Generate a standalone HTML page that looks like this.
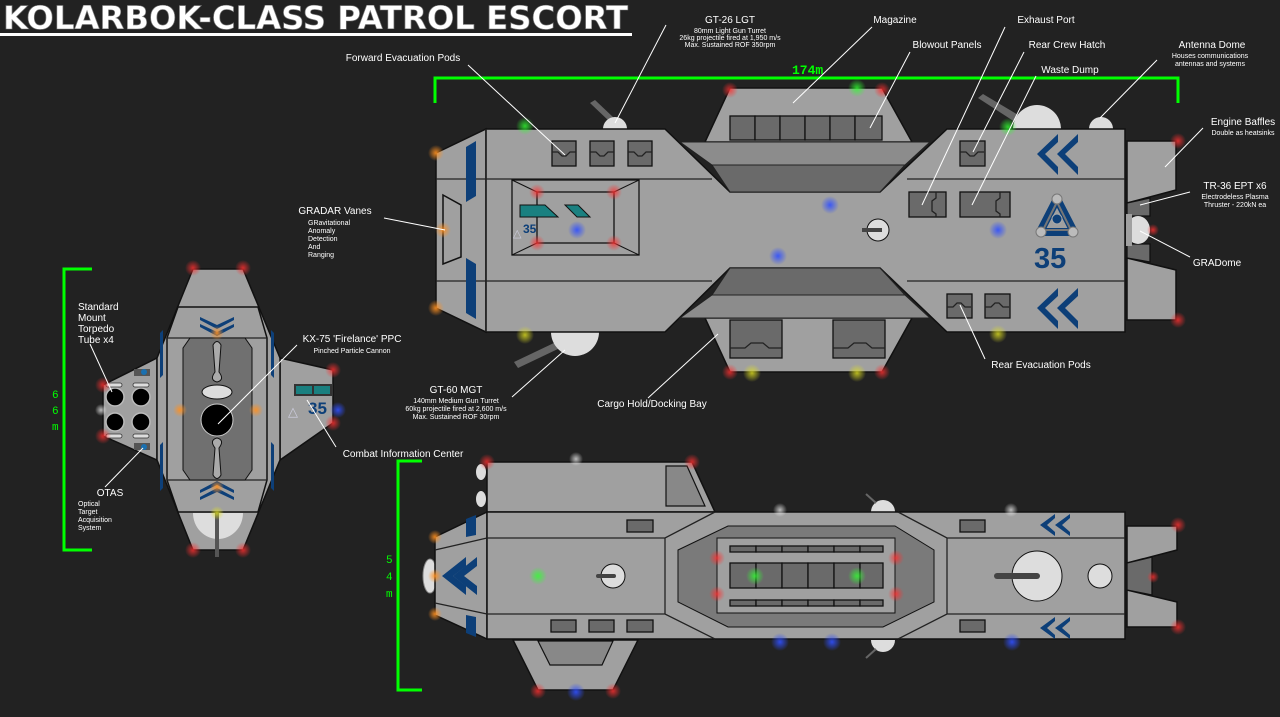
<!DOCTYPE html>
<html><head><meta charset="utf-8"><style>
html,body{margin:0;padding:0;background:#222;}
svg{display:block}
text{font-family:"Liberation Sans",sans-serif;fill:#fff}
.l{font-size:10px}.s{font-size:7px}
.ln{stroke:#fff;stroke-width:1;fill:none}
.h{fill:#a0a0a0;stroke:#111;stroke-width:1.5}
.d{fill:#6a6a6a;stroke:#111;stroke-width:1.3}
.m{fill:#888;stroke:#111;stroke-width:1.2}
.k{stroke:#222;stroke-width:1.3;fill:none}
.b{fill:#0d3f78}
.g{stroke:#00ff00;stroke-width:3;fill:none}
</style></head><body>
<svg width="1280" height="717" viewBox="0 0 1280 717" xmlns="http://www.w3.org/2000/svg">
<defs>
<radialGradient id="gr"><stop offset="0" stop-color="#ff3030" stop-opacity=".8"/><stop offset="1" stop-color="#ff3030" stop-opacity="0"/></radialGradient>
<radialGradient id="gg"><stop offset="0" stop-color="#30ff30" stop-opacity=".8"/><stop offset="1" stop-color="#30ff30" stop-opacity="0"/></radialGradient>
<radialGradient id="gb"><stop offset="0" stop-color="#3050ff" stop-opacity=".9"/><stop offset="1" stop-color="#3050ff" stop-opacity="0"/></radialGradient>
<radialGradient id="go"><stop offset="0" stop-color="#ff9020" stop-opacity=".9"/><stop offset="1" stop-color="#ff9020" stop-opacity="0"/></radialGradient>
<radialGradient id="gy"><stop offset="0" stop-color="#e0e020" stop-opacity=".8"/><stop offset="1" stop-color="#e0e020" stop-opacity="0"/></radialGradient>
<radialGradient id="gw"><stop offset="0" stop-color="#ffffff" stop-opacity=".7"/><stop offset="1" stop-color="#ffffff" stop-opacity="0"/></radialGradient>
</defs>

<!-- Title -->
<text x="3" y="29" style="font-family:'DejaVu Sans Condensed','Liberation Sans Narrow',sans-serif;font-weight:bold;font-size:32px;fill:#fff;stroke:#777;stroke-width:.6" textLength="625" lengthAdjust="spacingAndGlyphs">KOLARBOK-CLASS PATROL ESCORT</text>
<rect x="0" y="33" width="632" height="3" fill="#fff"/>

<!-- Scale bars -->
<path class="g" d="M435,103 V78 H1178 V103"/>
<text x="792" y="74" style="fill:#00ff00;font-size:13px;font-family:'Liberation Mono',monospace;font-weight:bold">174m</text>
<path class="g" d="M92,269 H64 V550 H92"/>
<text x="52" y="398" style="fill:#00ff00;font-size:11px;font-family:'Liberation Mono',monospace">6</text>
<text x="52" y="414" style="fill:#00ff00;font-size:11px;font-family:'Liberation Mono',monospace">6</text>
<text x="52" y="430" style="fill:#00ff00;font-size:11px;font-family:'Liberation Mono',monospace">m</text>
<path class="g" d="M422,461 H398 V690 H422"/>
<text x="386" y="563" style="fill:#00ff00;font-size:11px;font-family:'Liberation Mono',monospace">5</text>
<text x="386" y="580" style="fill:#00ff00;font-size:11px;font-family:'Liberation Mono',monospace">4</text>
<text x="386" y="597" style="fill:#00ff00;font-size:11px;font-family:'Liberation Mono',monospace">m</text>

<!-- ===== TOP VIEW ===== -->
<polygon points="590,103 595,100 614,118 610,122" fill="#666"/>
<path d="M603,129 A12,12 0 0 1 627,129 Z" fill="#ddd"/>
<polygon points="978,98 983,94 1020,116 1015,122" fill="#666"/>
<path d="M1013,129 A24,24 0 0 1 1061,129 Z" fill="#ddd"/>
<path d="M1089,129 A12,12 0 0 1 1113,129 Z" fill="#ddd"/>
<polygon points="514,362 518,368 560,348 556,342" fill="#666"/>
<path d="M551,332 A24,24 0 0 0 599,332 Z" fill="#ddd"/>
<polygon class="h" points="730,88 882,88 912,142 705,142"/>
<polygon class="h" points="705,318 912,318 882,372 730,372"/>
<polygon class="h" points="436,153 486,129 486,332 436,308"/>
<polygon class="h" points="443,195 461,205 461,257 443,264" />
<polygon class="h" points="486,129 665,129 730,192 880,192 947,129 1125,129 1125,332 947,332 880,268 730,268 665,332 486,332"/>
<polygon points="680,142 930,142 905,165 712,165" fill="#8c8c8c" stroke="#222"/>
<polygon points="712,165 905,165 880,192 730,192" fill="#6a6a6a" stroke="#222"/>
<polygon points="712,295 905,295 930,318 680,318" fill="#8c8c8c" stroke="#222"/>
<polygon points="730,268 880,268 905,295 712,295" fill="#6a6a6a" stroke="#222"/>
<line class="k" x1="436" y1="179" x2="712" y2="179"/><line class="k" x1="436" y1="281" x2="712" y2="281"/>
<line class="k" x1="907" y1="179" x2="1125" y2="179"/><line class="k" x1="907" y1="281" x2="1125" y2="281"/>
<line class="k" x1="486" y1="129" x2="486" y2="332"/>
<polygon class="b" points="466,147 476,141 476,196 466,202"/>
<polygon class="b" points="466,258 476,264 476,319 466,313"/>
<polygon class="h" points="1127,141 1176,141 1176,190 1127,203"/>
<polygon class="h" points="1127,258 1176,270 1176,320 1127,320"/>
<polygon class="d" points="1127,203 1150,198 1150,216 1127,216"/>
<polygon class="d" points="1127,244 1150,244 1150,262 1127,258"/>
<ellipse cx="1138" cy="230" rx="12" ry="14" fill="#ddd"/>
<rect x="1126" y="214" width="6" height="32" fill="#a0a0a0"/>
<g class="d">
<rect x="552" y="141" width="24" height="25"/><rect x="590" y="141" width="24" height="25"/><rect x="628" y="141" width="24" height="25"/>
<rect x="730" y="116" width="25" height="24"/><rect x="755" y="116" width="25" height="24"/><rect x="780" y="116" width="25" height="24"/><rect x="805" y="116" width="25" height="24"/><rect x="830" y="116" width="25" height="24"/><rect x="855" y="116" width="27" height="24"/>
<rect x="730" y="320" width="52" height="38"/><rect x="833" y="320" width="52" height="38"/>
<rect x="960" y="141" width="25" height="25"/>
<rect x="947" y="294" width="25" height="24"/><rect x="985" y="294" width="25" height="24"/>
<rect x="909" y="192" width="37" height="25"/><rect x="960" y="192" width="50" height="25"/>
</g>
<g class="k" stroke-width="1">
<path d="M552,152 h6 l4,4 h4 l4,-4 h6"/><path d="M590,152 h6 l4,4 h4 l4,-4 h6"/><path d="M628,152 h6 l4,4 h4 l4,-4 h6"/>
<path d="M960,152 h6 l4,4 h4 l4,-4 h6"/>
<path d="M947,307 h6 l4,-4 h4 l4,4 h6"/><path d="M985,307 h6 l4,-4 h4 l4,4 h6"/>
<path d="M730,348 h15 l6,-5 h12 l6,5 h13"/><path d="M833,348 h15 l6,-5 h12 l6,5 h13"/>
<path d="M936,192 v6 l-4,3 v10 l4,3 v3"/><path d="M1000,192 v6 l-4,3 v10 l4,3 v3"/>
</g>
<rect x="512" y="180" width="127" height="75" fill="none" stroke="#111" stroke-width="1.3"/>
<rect x="537" y="192" width="77" height="51" fill="none" stroke="#111" stroke-width="1.3"/>
<path d="M512,180 L537,192 M639,180 L614,192 M512,255 L537,243 M639,255 L614,243" stroke="#111"/>
<polygon points="520,205 545,205 558,217 520,217" fill="#1a8080" stroke="#111"/>
<polygon points="565,205 578,205 590,217 577,217" fill="#1a8080" stroke="#111"/>
<text x="523" y="233" style="fill:#0d3f78;font-weight:bold;font-size:12px">35</text>
<text x="513" y="237" style="fill:#ccd;font-size:11px">△</text>
<circle cx="878" cy="230" r="11" fill="#ddd" stroke="#111"/>
<rect x="862" y="228" width="20" height="4" fill="#444"/>
<g class="b">
<polygon points="1058,134 1037,154 1058,175 1058,167 1045,154 1058,142"/><polygon points="1078,134 1057,154 1078,175 1078,167 1065,154 1078,142"/>
<polygon points="1058,288 1037,308 1058,329 1058,321 1045,308 1058,296"/><polygon points="1078,288 1057,308 1078,329 1078,321 1065,308 1078,296"/>
</g>
<!-- logo -->
<polygon points="1057,199 1040,232 1074,232" fill="none" stroke="#0d3f78" stroke-width="8" stroke-linejoin="round"/>
<polygon points="1057,202 1043,230 1071,230" fill="none" stroke="#777" stroke-width="2"/>
<circle cx="1057" cy="219" r="5" fill="#0d3f78" stroke="#aaa"/>
<circle cx="1057" cy="199" r="5" fill="#bbb" stroke="#777"/><circle cx="1041" cy="232" r="5" fill="#bbb" stroke="#777"/><circle cx="1073" cy="232" r="5" fill="#bbb" stroke="#777"/>
<text x="1034" y="268" style="fill:#0d3f78;font-weight:bold;font-size:29px">35</text>

<!-- ===== FRONT VIEW ===== -->
<line x1="217" y1="288" x2="217" y2="306" stroke="#555" stroke-width="3"/>
<path d="M205,308 A12,10 0 0 1 229,308 Z" fill="#6c6"/>
<polygon class="h" points="103,385 157,358 157,460 103,436"/>
<polygon class="h" points="280,358 333,370 333,423 280,460"/>
<polygon class="h" points="193,269 243,269 280,358 280,460 243,550 193,550 157,460 157,358"/>
<polygon class="h" points="178,307 258,307 267,338 267,480 258,512 178,512 167,480 167,338"/>
<line class="k" x1="167" y1="338" x2="267" y2="338"/><line class="k" x1="167" y1="480" x2="267" y2="480"/>
<polygon points="190,338 245,338 252,348 252,470 245,480 190,480 183,470 183,348" fill="#707070" stroke="#111"/>
<path d="M213,345 Q217,338 221,345 L219,372 Q225,380 217,382 Q209,380 215,372 Z" fill="#aaa" stroke="#111"/>
<path d="M213,475 Q217,482 221,475 L219,448 Q225,440 217,438 Q209,440 215,448 Z" fill="#aaa" stroke="#111"/>
<ellipse cx="217" cy="392" rx="15" ry="7" fill="#ddd" stroke="#111"/>
<circle cx="217" cy="420" r="16" fill="#000" stroke="#ccc" stroke-width="1"/>
<g class="b">
<polygon points="200,317 217,325 234,317 234,320 217,329 200,320"/><polygon points="200,324 217,332 234,324 234,327 217,336 200,327"/>
<polygon points="200,500 217,492 234,500 234,497 217,488 200,497"/><polygon points="200,493 217,485 234,493 234,490 217,481 200,490"/>
<polygon points="160,333 163,330 163,375 160,378"/><polygon points="160,445 163,442 163,488 160,491"/>
<polygon points="274,333 271,330 271,375 274,378"/><polygon points="274,445 271,442 271,488 274,491"/>
</g>
<g fill="#000" stroke="#bbb" stroke-width="1.5">
<circle cx="115" cy="397" r="9"/><circle cx="141" cy="397" r="9"/><circle cx="115" cy="422" r="9"/><circle cx="141" cy="422" r="9"/>
</g>
<g fill="#ddd" stroke="#333" stroke-width=".8">
<rect x="106" y="383" width="16" height="4" rx="2"/><rect x="133" y="383" width="16" height="4" rx="2"/>
<rect x="106" y="434" width="16" height="4" rx="2"/><rect x="133" y="434" width="16" height="4" rx="2"/>
</g>
<rect x="134" y="369" width="16" height="7" fill="#555"/><circle cx="144" cy="372" r="3" fill="#1a70b0"/>
<rect x="134" y="443" width="16" height="7" fill="#555"/><circle cx="144" cy="447" r="3" fill="#1a70b0"/>
<rect x="294" y="384" width="38" height="12" fill="#333"/><rect x="296" y="386" width="16" height="8" fill="#1a8080"/><rect x="314" y="386" width="16" height="8" fill="#1a8080"/>
<text x="308" y="414" style="fill:#0d3f78;font-weight:bold;font-size:17px">35</text>
<text x="288" y="416" style="fill:#ccd;font-size:13px">△</text>
<path d="M193,513 A25,26 0 0 0 243,513 Z" fill="#ddd"/>
<line x1="217" y1="513" x2="217" y2="557" stroke="#555" stroke-width="4"/>

<!-- ===== SIDE VIEW ===== -->
<ellipse cx="481" cy="472" rx="5" ry="8" fill="#ddd"/><ellipse cx="481" cy="499" rx="5" ry="8" fill="#ddd"/>
<path d="M871,512 A12,12 0 0 1 895,512 Z" fill="#ddd"/><line x1="866" y1="494" x2="876" y2="503" stroke="#666" stroke-width="2"/>
<path d="M871,640 A12,12 0 0 0 895,640 Z" fill="#ddd"/><line x1="866" y1="658" x2="876" y2="649" stroke="#666" stroke-width="2"/>
<polygon class="h" points="513,640 638,640 613,690 538,690"/>
<polygon class="m" points="538,641 613,641 602,665 550,665"/>
<polygon class="h" points="487,462 692,462 715,512 487,512"/>
<polygon class="m" points="666,466 687,466 705,506 666,506"/>
<ellipse cx="430" cy="576" rx="7" ry="17" fill="#ddd" stroke="#888"/>
<polygon class="h" points="435,537 487,512 487,639 435,615"/>
<polygon class="h" points="487,512 1125,512 1125,639 487,639"/>
<path class="k" d="M435,550 L487,538 M435,603 L487,614 M487,538 H665 L715,512 M487,614 H665 L715,639 M665,538 V614 M898,512 L947,538 H1125 M898,639 L947,614 H1125 M947,538 V614"/>
<polygon points="678,550 728,526 895,526 934,550 934,602 883,627 728,627 678,602" fill="#7a7a7a" stroke="#111"/>
<rect x="717" y="538" width="178" height="75" fill="#a0a0a0" stroke="#111"/>
<g class="d" stroke-width="1">
<rect x="730" y="546" width="26" height="6"/><rect x="756" y="546" width="26" height="6"/><rect x="782" y="546" width="26" height="6"/><rect x="808" y="546" width="26" height="6"/><rect x="834" y="546" width="26" height="6"/><rect x="860" y="546" width="23" height="6"/>
<rect x="730" y="563" width="26" height="25"/><rect x="756" y="563" width="26" height="25"/><rect x="782" y="563" width="26" height="25"/><rect x="808" y="563" width="26" height="25"/><rect x="834" y="563" width="26" height="25"/><rect x="860" y="563" width="23" height="25"/>
<rect x="730" y="600" width="26" height="6"/><rect x="756" y="600" width="26" height="6"/><rect x="782" y="600" width="26" height="6"/><rect x="808" y="600" width="26" height="6"/><rect x="834" y="600" width="26" height="6"/><rect x="860" y="600" width="23" height="6"/>
<rect x="627" y="520" width="26" height="12"/><rect x="551" y="620" width="25" height="12"/><rect x="589" y="620" width="25" height="12"/><rect x="627" y="620" width="26" height="12"/>
<rect x="960" y="520" width="25" height="12"/><rect x="960" y="620" width="25" height="12"/>
</g>
<polygon class="h" points="1127,526 1177,526 1177,550 1127,563"/>
<polygon class="h" points="1127,590 1177,602 1177,627 1127,627"/>
<polygon class="d" points="1127,563 1152,557 1152,595 1127,590"/>
<g class="b">
<polygon points="466,557 442,576 466,595 466,586 453,576 466,566"/><polygon points="477,557 453,576 477,595 477,586 464,576 477,566"/>
<polygon points="466,519 476,515 476,535 466,537"/><polygon points="466,615 476,617 476,637 466,633"/>
<polygon points="1055,514 1040,525 1055,536 1055,532 1047,525 1055,518"/><polygon points="1070,514 1055,525 1070,536 1070,532 1062,525 1070,518"/>
<polygon points="1055,617 1040,628 1055,639 1055,635 1047,628 1055,621"/><polygon points="1070,617 1055,628 1070,639 1070,635 1062,628 1070,621"/>
</g>
<circle cx="613" cy="576" r="12" fill="#ddd" stroke="#111"/><rect x="596" y="574" width="20" height="4" rx="2" fill="#444"/>
<circle cx="1037" cy="576" r="25" fill="#ddd" stroke="#111"/><rect x="994" y="573" width="46" height="6" rx="3" fill="#444"/>
<circle cx="1100" cy="576" r="12" fill="#ddd" stroke="#111"/>

<!-- ===== LIGHTS ===== -->
<g>
<g fill="url(#gr)">
<circle cx="730" cy="90" r="8"/><circle cx="882" cy="90" r="8"/><circle cx="730" cy="372" r="8"/><circle cx="882" cy="372" r="8"/>
<circle cx="537" cy="192" r="8"/><circle cx="614" cy="192" r="8"/><circle cx="537" cy="243" r="8"/><circle cx="614" cy="243" r="8"/>
<circle cx="1178" cy="141" r="8"/><circle cx="1178" cy="320" r="8"/><circle cx="1153" cy="230" r="6"/>
<circle cx="193" cy="268" r="8"/><circle cx="243" cy="268" r="8"/><circle cx="103" cy="385" r="8"/><circle cx="103" cy="436" r="8"/>
<circle cx="333" cy="370" r="8"/><circle cx="333" cy="423" r="8"/><circle cx="193" cy="550" r="8"/><circle cx="243" cy="550" r="8"/>
<circle cx="487" cy="462" r="8"/><circle cx="692" cy="462" r="8"/><circle cx="717" cy="558" r="8"/><circle cx="717" cy="594" r="8"/>
<circle cx="896" cy="558" r="8"/><circle cx="896" cy="594" r="8"/><circle cx="538" cy="691" r="8"/><circle cx="613" cy="691" r="8"/>
<circle cx="1178" cy="525" r="8"/><circle cx="1178" cy="627" r="8"/><circle cx="1153" cy="577" r="6"/>
</g>
<g fill="url(#gg)"><circle cx="525" cy="126" r="9"/><circle cx="857" cy="88" r="9"/><circle cx="1008" cy="127" r="9"/><circle cx="538" cy="576" r="9"/><circle cx="755" cy="576" r="9"/><circle cx="857" cy="576" r="9"/></g>
<g fill="url(#gb)"><circle cx="830" cy="205" r="9"/><circle cx="577" cy="230" r="9"/><circle cx="778" cy="256" r="9"/><circle cx="998" cy="230" r="9"/><circle cx="338" cy="410" r="8"/><circle cx="576" cy="692" r="9"/><circle cx="780" cy="642" r="9"/><circle cx="1012" cy="642" r="9"/><circle cx="832" cy="642" r="9"/></g>
<g fill="url(#go)"><circle cx="436" cy="153" r="8"/><circle cx="443" cy="230" r="8"/><circle cx="436" cy="308" r="8"/><circle cx="217" cy="333" r="7"/><circle cx="217" cy="487" r="7"/><circle cx="180" cy="410" r="7"/><circle cx="256" cy="410" r="7"/><circle cx="435" cy="537" r="7"/><circle cx="435" cy="614" r="7"/><circle cx="435" cy="576" r="7"/></g>
<g fill="url(#gy)"><circle cx="525" cy="335" r="9"/><circle cx="752" cy="373" r="9"/><circle cx="857" cy="373" r="9"/><circle cx="998" cy="334" r="9"/><circle cx="217" cy="513" r="7"/></g>
<g fill="url(#gw)"><circle cx="576" cy="459" r="7"/><circle cx="780" cy="510" r="7"/><circle cx="1011" cy="510" r="7"/><circle cx="101" cy="410" r="6"/></g>
</g>

<!-- ===== LABELS ===== -->
<g class="ln">
<line x1="666" y1="25" x2="615" y2="123"/>
<line x1="872" y1="27" x2="793" y2="103"/>
<line x1="468" y1="65" x2="565" y2="155"/>
<line x1="910" y1="52" x2="870" y2="128"/>
<line x1="1005" y1="27" x2="922" y2="205"/>
<line x1="1024" y1="52" x2="973" y2="152"/>
<line x1="1036" y1="76" x2="972" y2="205"/>
<line x1="1157" y1="60" x2="1100" y2="118"/>
<line x1="1203" y1="128" x2="1165" y2="167"/>
<line x1="1190" y1="192" x2="1140" y2="205"/>
<line x1="1190" y1="257" x2="1140" y2="231"/>
<line x1="384" y1="218" x2="445" y2="230"/>
<line x1="985" y1="359" x2="960" y2="305"/>
<line x1="648" y1="398" x2="718" y2="334"/>
<line x1="512" y1="397" x2="565" y2="350"/>
<line x1="297" y1="345" x2="218" y2="424"/>
<line x1="90" y1="344" x2="112" y2="392"/>
<line x1="105" y1="487" x2="143" y2="448"/>
<line x1="336" y1="447" x2="307" y2="400"/>
</g>
<g text-anchor="middle">
<text class="l" x="730" y="23">GT-26 LGT</text>
<text class="s" x="730" y="33">80mm Light Gun Turret</text>
<text class="s" x="730" y="40">26kg projectile fired at 1,950 m/s</text>
<text class="s" x="730" y="47">Max. Sustained ROF 350rpm</text>
<text class="l" x="895" y="23">Magazine</text>
<text class="l" x="1046" y="23">Exhaust Port</text>
<text class="l" x="403" y="61">Forward Evacuation Pods</text>
<text class="l" x="947" y="48">Blowout Panels</text>
<text class="l" x="1067" y="48">Rear Crew Hatch</text>
<text class="l" x="1070" y="73">Waste Dump</text>
<text class="l" x="1212" y="48">Antenna Dome</text>
<text class="s" x="1210" y="58">Houses communications</text>
<text class="s" x="1210" y="66">antennas and systems</text>
<text class="l" x="1243" y="125">Engine Baffles</text>
<text class="s" x="1243" y="135">Double as heatsinks</text>
<text class="l" x="1235" y="189">TR-36 EPT x6</text>
<text class="s" x="1235" y="199">Electrodeless Plasma</text>
<text class="s" x="1235" y="207">Thruster - 220kN ea</text>
<text class="l" x="1217" y="266">GRADome</text>
<text class="l" x="335" y="214">GRADAR Vanes</text>
<text class="l" x="1041" y="368">Rear Evacuation Pods</text>
<text class="l" x="652" y="407">Cargo Hold/Docking Bay</text>
<text class="l" x="456" y="393">GT-60 MGT</text>
<text class="s" x="456" y="403">140mm Medium Gun Turret</text>
<text class="s" x="456" y="411">60kg projectile fired at 2,600 m/s</text>
<text class="s" x="456" y="419">Max. Sustained ROF 30rpm</text>
<text class="l" x="352" y="342">KX-75 'Firelance' PPC</text>
<text class="s" x="352" y="353">Pinched Particle Cannon</text>
<text class="l" x="403" y="457">Combat Information Center</text>
<text class="l" x="110" y="496">OTAS</text>
</g>
<text class="s" x="308" y="225">GRavitational</text>
<text class="s" x="308" y="233">Anomaly</text>
<text class="s" x="308" y="241">Detection</text>
<text class="s" x="308" y="249">And</text>
<text class="s" x="308" y="257">Ranging</text>
<text class="l" x="78" y="310">Standard</text>
<text class="l" x="78" y="321">Mount</text>
<text class="l" x="78" y="332">Torpedo</text>
<text class="l" x="78" y="343">Tube x4</text>
<text class="s" x="78" y="506">Optical</text>
<text class="s" x="78" y="514">Target</text>
<text class="s" x="78" y="522">Acquisition</text>
<text class="s" x="78" y="530">System</text>
</svg>
</body></html>
